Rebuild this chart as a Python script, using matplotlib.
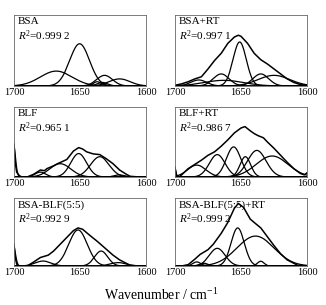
import numpy as np
import matplotlib
matplotlib.use("Agg")
import matplotlib.pyplot as plt

plt.rcParams['font.family'] = ['Liberation Serif', 'DejaVu Serif']
plt.rcParams['mathtext.fontset'] = 'custom'
plt.rcParams['mathtext.rm'] = 'Liberation Serif'
plt.rcParams['mathtext.it'] = 'Liberation Serif:italic'

# Panel names and fit quality
names = ["BSA", "BSA+RT", "BLF", "BLF+RT", "BSA-BLF(5:5)", "BSA-BLF(5:5)+RT"]
r2_text = ["0.999 2", "0.997 1", "0.965 1", "0.986 7", "0.992 9", "0.999 2"]

# Band components: centres (cm-1), heights (relative), widths (sigma, cm-1)
bsa_centers = [1650.3, 1668.0, 1631.4, 1620.0, 1637.0, 1633.0]
bsa_heights = [0.595, 0.21, 0.15, 0.10, 0.06, 0.05]
bsa_widths = [7.5, 12.0, 6.0, 8.0, 3.0, 4.0]

bsart_centers = [1651.0, 1665.0, 1635.0, 1625.0, 1682.0, 1663.0]
bsart_heights = [0.62, 0.17, 0.17, 0.15, 0.085, 0.08]
bsart_widths = [5.0, 6.0, 6.0, 12.0, 6.0, 15.0]

blf_centers = [1700.6, 1651.0, 1635.0, 1665.0, 1680.0, 1620.0]
blf_heights = [0.50, 0.335, 0.29, 0.19, 0.07, 0.03]
blf_widths = [1.6, 6.0, 7.0, 8.0, 4.0, 4.0]

blfrt_centers = [1700.4, 1655.6, 1668.0, 1683.5, 1646.7, 1638.0, 1626.4]
blfrt_heights = [0.14, 0.43, 0.32, 0.17, 0.29, 0.38, 0.30]
blfrt_widths = [1.0, 5.5, 6.0, 7.0, 4.0, 7.0, 12.0]

mix_centers = [1700.6, 1651.5, 1634.0, 1678.0, 1621.0]
mix_heights = [0.32, 0.53, 0.22, 0.073, 0.05]
mix_widths = [1.6, 7.0, 5.0, 6.0, 6.0]

mixrt_centers = [1652.5, 1639.0, 1668.0, 1635.0, 1683.5, 1678.0]
mixrt_heights = [0.56, 0.44, 0.26, 0.07, 0.06, 0.04]
mixrt_widths = [5.0, 14.0, 6.0, 2.5, 3.0, 3.0]

# Measured spectra (envelopes): wavenumber, relative absorbance
bsart_env_x = [1700, 1695, 1690, 1685, 1680, 1675, 1670, 1665, 1660, 1655, 1652,
               1650, 1645, 1640, 1635, 1630, 1625, 1620, 1615, 1610, 1605, 1600]
bsart_env_y = [0.01, 0.03, 0.06, 0.10, 0.13, 0.24, 0.36, 0.46, 0.60, 0.69, 0.715,
               0.70, 0.60, 0.46, 0.37, 0.31, 0.24, 0.17, 0.10, 0.05, 0.02, 0.01]

blf_env_x = [1700, 1699, 1698, 1696, 1694, 1690, 1685, 1680, 1677, 1675, 1670,
             1667, 1660, 1655, 1651, 1648, 1645, 1640, 1635, 1630, 1625, 1620,
             1615, 1612, 1605, 1600]
blf_env_y = [0.46, 0.20, 0.07, 0.02, 0.0, 0.0, 0.04, 0.10, 0.09, 0.12, 0.16,
             0.19, 0.25, 0.37, 0.42, 0.40, 0.36, 0.33, 0.32, 0.26, 0.19, 0.10,
             0.04, 0.01, 0.0, 0.0]

blfrt_env_x = [1700, 1699, 1697, 1695, 1690, 1685, 1680, 1675, 1670, 1665,
               1660, 1655, 1650, 1647, 1643, 1640, 1637, 1633, 1630, 1625,
               1620, 1615, 1610, 1605, 1602, 1600]
blfrt_env_y = [0.14, 0.02, 0.0, 0.03, 0.12, 0.18, 0.24, 0.31, 0.36, 0.44,
               0.53, 0.63, 0.70, 0.72, 0.66, 0.62, 0.59, 0.56, 0.50, 0.41,
               0.31, 0.21, 0.12, 0.05, 0.03, 0.06]

mix_env_x = [1700, 1699, 1698, 1697, 1690, 1685, 1680, 1674, 1670, 1665, 1660,
             1655, 1651.5, 1648, 1645, 1640, 1637.7, 1635, 1630, 1625, 1620,
             1615, 1612, 1605, 1600]
mix_env_y = [0.32, 0.12, 0.03, 0.0, 0.0, 0.06, 0.125, 0.16, 0.22, 0.32, 0.42,
             0.52, 0.56, 0.54, 0.49, 0.41, 0.375, 0.33, 0.245, 0.16, 0.09,
             0.04, 0.01, 0.0, 0.0]

mixrt_env_x = [1700, 1695, 1690, 1685, 1681, 1675, 1671, 1665, 1660, 1655,
               1652, 1648, 1643, 1640, 1635, 1630, 1625, 1620, 1615, 1610,
               1607, 1600]
mixrt_env_y = [0.0, 0.0, 0.02, 0.10, 0.17, 0.24, 0.32, 0.48, 0.64, 0.85,
               0.92, 0.86, 0.69, 0.64, 0.56, 0.43, 0.30, 0.18, 0.09, 0.04,
               0.01, 0.0]

panels = [
    (bsa_centers, bsa_heights, bsa_widths, None, None),
    (bsart_centers, bsart_heights, bsart_widths, bsart_env_x, bsart_env_y),
    (blf_centers, blf_heights, blf_widths, blf_env_x, blf_env_y),
    (blfrt_centers, blfrt_heights, blfrt_widths, blfrt_env_x, blfrt_env_y),
    (mix_centers, mix_heights, mix_widths, mix_env_x, mix_env_y),
    (mixrt_centers, mixrt_heights, mixrt_widths, mixrt_env_x, mixrt_env_y),
]

xticks = [1700, 1650, 1600]

W, H = 326, 305
fig = plt.figure(figsize=(W / 100, H / 100), dpi=100)

col_left = [14, 175]
col_w = 132
row_top = [15, 107, 198]
row_h = [71, 70, 68]

x = np.linspace(1600, 1702, 1000)

for i, (cen, hgt, wid, ex, ey) in enumerate(panels):
    r, c = divmod(i, 2)
    l = col_left[c] / W
    b = 1 - (row_top[r] + row_h[r]) / H
    ax = fig.add_axes([l, b, col_w / W, row_h[r] / H])
    for c0, h0, w0 in zip(cen, hgt, wid):
        comp = h0 * np.exp(-0.5 * ((x - c0) / w0) ** 2)
        ax.plot(x, comp, color='black', lw=0.9)
    if ex is not None:
        ax.plot(ex, ey, color='black', lw=1.1)
    ax.set_xlim(1700, 1600)
    ax.set_ylim(0, 1.0)
    ax.set_yticks([])
    ax.set_xticks(xticks)
    ax.set_xticklabels([str(t) for t in xticks])
    ax.tick_params(axis='x', length=0, pad=1.5, labelsize=7.5)
    for s in ax.spines.values():
        s.set_color('#666666')
        s.set_linewidth(0.6)
    ax.text(0.03, 0.97, names[i], transform=ax.transAxes, ha='left', va='top',
            fontsize=8)
    ax.text(0.03, 0.81, r"$R^2$=" + r2_text[i], transform=ax.transAxes,
            ha='left', va='top', fontsize=8)

fig.text(161 / W, 1 - 295 / H, "Wavenumber / cm$^{-1}$", ha='center',
         va='center', fontsize=10)

fig.savefig("out.png", dpi=100)
